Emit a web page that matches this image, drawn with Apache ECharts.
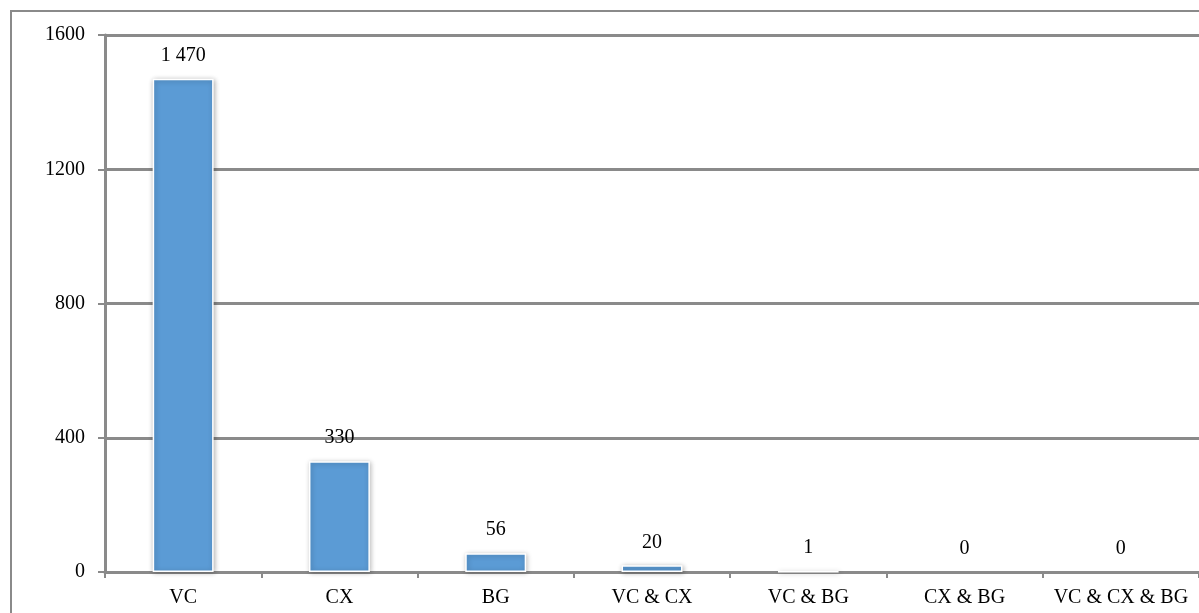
<!DOCTYPE html>
<html>
<head>
<meta charset="UTF-8">
<title>Counts by group</title>
<script src="https://cdn.jsdelivr.net/npm/echarts@6/dist/echarts.min.js"></script>
<style>
  html, body { margin: 0; padding: 0; background: #fff; }
  #chart { width: 1199px; height: 613px; }
</style>
</head>
<body>
<div id="chart"></div>
<script>
// data
var categories = ['VC', 'CX', 'BG', 'VC & CX', 'VC & BG', 'CX & BG', 'VC & CX & BG'];
var counts = [1470, 330, 56, 20, 1, 0, 0];
var yTicks = [0, 400, 800, 1200, 1600];

var serif = '"Liberation Serif", "Times New Roman", serif';
var gray = '#8a8a8a';

var myChart = echarts.init(document.getElementById('chart'));

// bars of height 0 get no border / shadow, so nothing shows but the label
var barData = counts.map(function (v) {
  if (v === 0) {
    return { value: v, itemStyle: { borderWidth: 0, shadowBlur: 0, shadowOffsetX: 0, shadowOffsetY: 0 } };
  }
  return v;
});

var option = {
  animation: false,
  backgroundColor: '#fff',
  textStyle: { fontFamily: serif },
  // outer frame of the chart area (runs off the bottom/right edge)
  graphic: [{
    type: 'rect',
    silent: true,
    shape: { x: 11, y: 11, width: 1300, height: 800 },
    style: { fill: 'none', stroke: gray, lineWidth: 2 }
  }],
  grid: { left: 105, top: 35, right: -4, bottom: 41 },
  xAxis: {
    type: 'category',
    data: categories,
    axisLine: { lineStyle: { color: gray, width: 3 } },
    axisTick: { show: true, length: 6, lineStyle: { color: gray, width: 2 } },
    axisLabel: { color: '#000', fontSize: 20, fontFamily: serif, margin: 16, interval: 0 }
  },
  yAxis: {
    type: 'value',
    min: yTicks[0],
    max: yTicks[yTicks.length - 1],
    interval: 400,
    axisLine: { show: true, lineStyle: { color: gray, width: 3 } },
    axisTick: { show: true, length: 7, lineStyle: { color: gray, width: 2 } },
    axisLabel: {
      color: '#000', fontSize: 20, fontFamily: serif, margin: 20,
      formatter: function (v) { return String(v); }
    },
    splitLine: { show: true, lineStyle: { color: gray, width: 3 } }
  },
  series: [{
    type: 'bar',
    data: barData,
    barWidth: '39%',
    itemStyle: {
      color: '#5b9bd5',
      borderColor: '#ffffff',
      borderWidth: 1.5,
      shadowColor: 'rgba(0,0,0,0.3)',
      shadowBlur: 5,
      shadowOffsetX: 1,
      shadowOffsetY: 1
    },
    label: {
      show: true,
      position: 'top',
      distance: 13,
      color: '#000',
      fontSize: 20,
      fontFamily: serif,
      formatter: function (p) {
        // thousands separated by a space, as in the source
        return String(p.value).replace(/\B(?=(\d{3})+(?!\d))/g, ' ');
      }
    }
  }]
};

myChart.setOption(option);
</script>
</body>
</html>
